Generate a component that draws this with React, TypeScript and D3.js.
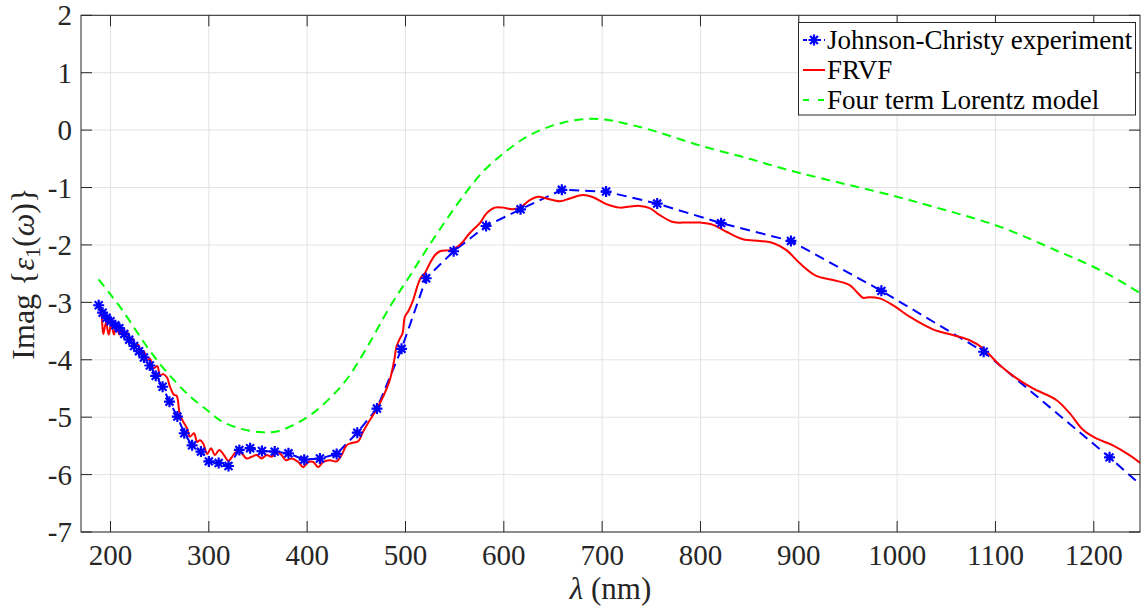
import React from 'react';
import * as d3 from 'd3';

// ---------- data ----------
const jcWavelength = [188, 192, 196, 200, 205, 209, 214, 219, 224, 229, 234, 240, 246, 253, 260, 268, 275, 283, 292, 300, 310, 320, 331, 342, 354, 367, 381, 397, 413, 430, 451, 471, 496, 521, 549, 582, 617, 659, 704, 756, 821, 892, 984, 1088, 1216, 1393];
const jcValue = [-3.05, -3.18, -3.27, -3.33, -3.40, -3.45, -3.55, -3.65, -3.76, -3.85, -3.96, -4.10, -4.28, -4.47, -4.73, -4.99, -5.28, -5.49, -5.60, -5.77, -5.80, -5.85, -5.57, -5.54, -5.59, -5.60, -5.63, -5.74, -5.72, -5.64, -5.27, -4.85, -3.81, -2.58, -2.11, -1.67, -1.38, -1.04, -1.07, -1.28, -1.62, -1.93, -2.80, -3.86, -5.70, -8.38];

const frvfWavelength = [188.3, 190, 192.7, 195.4, 198.2, 200.8, 203.5, 206.3, 208.9, 212, 214.7, 217.1, 219.8, 222.6, 225.2, 228.3, 231, 234, 236.8, 240.1, 243.5, 247.6, 250.3, 253.7, 257.5, 260.5, 264.5, 267.3, 270.6, 274.7, 278, 280.8, 284.9, 288.2, 291, 294.3, 298.4, 302.2, 306.2, 310.6, 315.4, 319.8, 324.9, 328.3, 333.4, 338.4, 343.5, 348.6, 353.7, 358.8, 363.9, 369, 374, 378.4, 384.2, 390.9, 396, 401.1, 406.2, 411.2, 416.3, 423.1, 429.9, 435, 440.1, 445.2, 451.9, 457, 463.8, 470, 477.3, 484.1, 488.5, 490.9, 494.3, 497, 499.4, 502.7, 507.8, 511.3, 515.3, 519.7, 524.8, 529.9, 535, 545.1, 552, 558, 565, 575.6, 582.4, 590.9, 599.3, 609.5, 618, 626.4, 634.9, 643.4, 657, 667.1, 680.6, 690.8, 704.4, 717.9, 728.1, 738.3, 748.4, 758.6, 772.1, 785.7, 799.3, 812.8, 826.4, 843.3, 860.6, 874.3, 887.4, 901, 917.9, 934.8, 951.7, 960.2, 965.3, 972.1, 982.2, 995.8, 1012.7, 1036.4, 1056.7, 1073.7, 1087.3, 1104.2, 1121.2, 1138.1, 1161.9, 1175.4, 1189, 1202.5, 1219.4, 1236.3, 1249.8];
const frvfValue = [-3.10, -3.12, -3.55, -3.35, -3.56, -3.37, -3.56, -3.37, -3.56, -3.45, -3.60, -3.51, -3.69, -3.63, -3.77, -3.74, -3.89, -3.85, -4.01, -3.98, -4.15, -4.11, -4.27, -4.25, -4.31, -4.47, -4.61, -4.63, -4.96, -5.10, -5.20, -5.34, -5.28, -5.43, -5.40, -5.46, -5.64, -5.54, -5.66, -5.57, -5.66, -5.76, -5.66, -5.60, -5.63, -5.72, -5.69, -5.66, -5.72, -5.66, -5.69, -5.60, -5.66, -5.75, -5.72, -5.78, -5.87, -5.78, -5.78, -5.87, -5.78, -5.75, -5.77, -5.66, -5.49, -5.45, -5.42, -5.25, -5.05, -4.88, -4.64, -4.35, -4.01, -3.77, -3.63, -3.54, -3.25, -3.16, -2.96, -2.76, -2.58, -2.49, -2.32, -2.18, -2.11, -2.09, -2.04, -1.95, -1.80, -1.62, -1.45, -1.35, -1.35, -1.38, -1.33, -1.22, -1.16, -1.19, -1.24, -1.19, -1.13, -1.17, -1.29, -1.35, -1.33, -1.32, -1.36, -1.48, -1.60, -1.61, -1.61, -1.65, -1.77, -1.90, -1.93, -1.97, -2.09, -2.32, -2.54, -2.61, -2.70, -2.84, -2.92, -2.91, -2.93, -3.05, -3.25, -3.47, -3.57, -3.66, -3.80, -4.09, -4.32, -4.50, -4.70, -4.93, -5.22, -5.37, -5.49, -5.66, -5.83];

const lorentzWavelength = [187.9, 199, 213, 237, 257, 281, 300, 311, 330, 352, 369, 389, 406, 426, 442, 464, 484, 504, 521, 540, 560, 579, 600, 620, 640, 660, 680, 700, 720, 750, 800, 850, 884, 935, 986, 1036, 1104, 1165, 1192, 1219, 1250];
const lorentzValue = [-2.60, -2.84, -3.16, -3.77, -4.21, -4.64, -4.90, -5.05, -5.19, -5.26, -5.25, -5.11, -4.93, -4.62, -4.30, -3.69, -3.08, -2.55, -2.09, -1.60, -1.12, -0.72, -0.40, -0.15, 0.02, 0.13, 0.19, 0.19, 0.13, 0.00, -0.27, -0.50, -0.67, -0.89, -1.10, -1.33, -1.68, -2.12, -2.32, -2.55, -2.87];

const xTicks = [200, 300, 400, 500, 600, 700, 800, 900, 1000, 1100, 1200];
const yTicks = [2, 1, 0, -1, -2, -3, -4, -5, -6, -7];
const legendLabels = ['Johnson-Christy experiment', 'FRVF', 'Four term Lorentz model'];

const W = 1148;
const H = 612;
const PL = 81, PR = 1140, PT = 15.3, PB = 532;
const FONT = '"Liberation Serif", "Times New Roman", serif';
const AX = '#262626';

function asterisk(cx: number, cy: number, r: number) {
  const k = r * 0.72;
  return `M${cx - r},${cy}L${cx + r},${cy}M${cx},${cy - r}L${cx},${cy + r}M${cx - k},${cy - k}L${cx + k},${cy + k}M${cx - k},${cy + k}L${cx + k},${cy - k}`;
}

export default function App() {
  const x = d3.scaleLinear().domain([170, 1247]).range([PL, PR]);
  const y = d3.scaleLinear().domain([-7, 2]).range([PB, PT]);

  const jc: [number, number][] = jcWavelength.map((w, i) => [w, jcValue[i]]);
  const fr: [number, number][] = frvfWavelength.map((w, i) => [w, frvfValue[i]]);
  const lz: [number, number][] = lorentzWavelength.map((w, i) => [w, lorentzValue[i]]);

  const lin = d3.line<[number, number]>().x(d => x(d[0])).y(d => y(d[1]));
  const smooth = d3.line<[number, number]>().x(d => x(d[0])).y(d => y(d[1])).curve(d3.curveCatmullRom.alpha(0.5));

  const tickLen = 11;
  const legendRows = [40, 70, 100];

  return (
    <svg width={W} height={H} style={{ position: 'absolute', left: 0, top: 0, background: '#fff' }} fontFamily={FONT}>
      <defs>
        <clipPath id="plotclip">
          <rect x={PL} y={PT} width={PR - PL} height={PB - PT} />
        </clipPath>
      </defs>
      <rect x={0} y={0} width={W} height={H} fill="#fff" />
      {/* grid */}
      {xTicks.map(t => (
        <line key={'gx' + t} x1={x(t)} x2={x(t)} y1={PT} y2={PB} stroke="#e3e3e3" strokeWidth={1} />
      ))}
      {yTicks.map(t => (
        <line key={'gy' + t} x1={PL} x2={PR} y1={y(t)} y2={y(t)} stroke="#e3e3e3" strokeWidth={1} />
      ))}
      {/* series */}
      <g clipPath="url(#plotclip)">
        <path d={lin(jc) || ''} fill="none" stroke="#0000ff" strokeWidth={2} strokeDasharray="10,6" />
        <path d={smooth(fr) || ''} fill="none" stroke="#ff0000" strokeWidth={2} />
        <path d={smooth(lz) || ''} fill="none" stroke="#00ff00" strokeWidth={2} strokeDasharray="9,6" />
        {jc.map((d, i) => (
          <path key={'m' + i} d={asterisk(x(d[0]), y(d[1]), 5.5)} stroke="#0000ff" strokeWidth={2.2} fill="none" />
        ))}
      </g>
      {/* axes box */}
      <rect x={PL} y={PT} width={PR - PL} height={PB - PT} fill="none" stroke={AX} strokeWidth={1} />
      {xTicks.map(t => (
        <g key={'xt' + t}>
          <line x1={x(t)} x2={x(t)} y1={PB} y2={PB - tickLen} stroke={AX} />
          <line x1={x(t)} x2={x(t)} y1={PT} y2={PT + tickLen} stroke={AX} />
          <text x={x(t)} y={565} textAnchor="middle" fontSize={29} fill={AX}>{t}</text>
        </g>
      ))}
      {yTicks.map(t => (
        <g key={'yt' + t}>
          <line x1={PL} x2={PL + tickLen} y1={y(t)} y2={y(t)} stroke={AX} />
          <line x1={PR} x2={PR - tickLen} y1={y(t)} y2={y(t)} stroke={AX} />
          <text x={72} y={y(t)} dy="0.35em" textAnchor="end" fontSize={29} fill={AX}>{String(t)}</text>
        </g>
      ))}
      {/* axis labels */}
      <text x={(PL + PR) / 2} y={599} textAnchor="middle" fontSize={31} fill={AX}>
        <tspan fontStyle="italic">λ</tspan> (nm)
      </text>
      <text transform={`translate(34,${(PT + PB) / 2}) rotate(-90)`} textAnchor="middle" fontSize={32} fill={AX}>
        Imag {'{'}<tspan fontStyle="italic">ε</tspan><tspan fontSize={22} dy={6}>1</tspan><tspan dy={-6}>(</tspan><tspan fontStyle="italic">ω</tspan>){'}'}
      </text>
      {/* legend */}
      <rect x={798.5} y={22.5} width={337} height={92.5} fill="#fff" stroke={AX} strokeWidth={1} />
      <line x1={803} x2={825} y1={legendRows[0]} y2={legendRows[0]} stroke="#0000ff" strokeWidth={2} strokeDasharray="4,3" />
      <path d={asterisk(814, legendRows[0], 5.5)} stroke="#0000ff" strokeWidth={2.2} fill="none" />
      <line x1={803} x2={825} y1={legendRows[1]} y2={legendRows[1]} stroke="#ff0000" strokeWidth={2} />
      <line x1={803} x2={825} y1={legendRows[2]} y2={legendRows[2]} stroke="#00ff00" strokeWidth={2} strokeDasharray="6,9" />
      {legendLabels.map((l, i) => (
        <text key={l} x={827} y={legendRows[i] + 8.5} fontSize={27} fill="#000">{l}</text>
      ))}
    </svg>
  );
}
